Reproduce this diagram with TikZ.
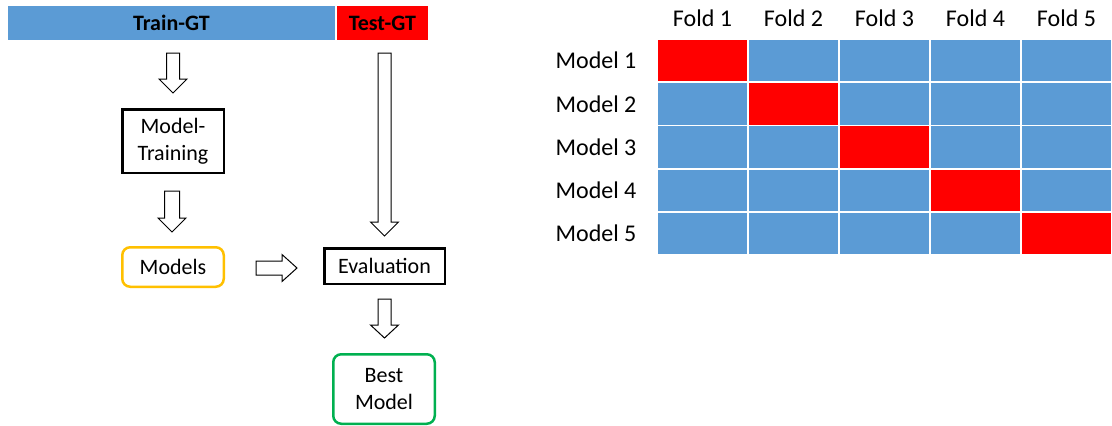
\documentclass[tikz,border=0pt]{standalone}
\usepackage{fontspec}
\setmainfont{Carlito}
\usetikzlibrary{calc}
\definecolor{foldblue}{HTML}{5B9BD5}
\definecolor{boxorange}{HTML}{FFC000}
\definecolor{boxgreen}{HTML}{00B050}

% hollow block arrow pointing down: from, tip, head length, shaft half width, head half width
\newcommand\downblock[5]{%
  \draw[blockarrow] let \p1=(#1), \p2=(#2) in
    ({\x1-#4pt},\y1) -- ({\x1+#4pt},\y1) -- ({\x1+#4pt},{\y2+#3pt}) --
    ({\x1+#5pt},{\y2+#3pt}) -- (\x1,\y2) -- ({\x1-#5pt},{\y2+#3pt}) --
    ({\x1-#4pt},{\y2+#3pt}) -- cycle;}
% hollow block arrow pointing right
\newcommand\rightblock[5]{%
  \draw[blockarrow] let \p1=(#1), \p2=(#2) in
    (\x1,{\y1+#4pt}) -- (\x1,{\y1-#4pt}) -- ({\x2-#3pt},{\y1-#4pt}) --
    ({\x2-#3pt},{\y1-#5pt}) -- (\x2,\y1) -- ({\x2-#3pt},{\y1+#5pt}) --
    ({\x2-#3pt},{\y1+#4pt}) -- cycle;}

\begin{document}
\begin{tikzpicture}[x=1pt,y=-1pt,
  bar/.style={rectangle, inner sep=0pt, minimum height=34pt,
    font=\fontsize{22}{26}\selectfont\bfseries},
  flowbox/.style={rectangle, draw=black, line width=2.5pt, inner sep=0pt,
    align=center, font=\fontsize{22}{27}\selectfont},
  roundbox/.style={flowbox, rounded corners=8pt},
  blockarrow/.style={draw=black, line width=1pt, fill=white, line join=miter},
  gridlabel/.style={inner sep=0pt, font=\fontsize{24}{28}\selectfont},
  cell/.style={draw=white, line width=1.8pt}]
\useasboundingbox (0,0) rectangle (1112,426);

% data split bar
\node[bar, fill=foldblue, minimum width=327pt] (train) at (171.5,23) {Train-GT};
\node[bar, fill=red, minimum width=91pt] (test) at (382.5,23) {Test-GT};

% flow boxes
\node[flowbox, minimum width=101.5pt, minimum height=63.5pt] (mt) at (173,141) {Model-\\Training};
\node[roundbox, draw=boxorange, minimum width=101.5pt, minimum height=39.5pt] (models) at (173,267) {Models};
\node[flowbox, minimum width=120.5pt, minimum height=35.5pt] (eval) at (384.5,266) {Evaluation};
\node[roundbox, draw=boxgreen, minimum width=101.5pt, minimum height=69.5pt] (best) at (384,389) {Best\\Model};

% arrow end points
\coordinate (a1s) at ($(mt.north |- train.south)+(0,13)$);
\coordinate (a1e) at ($(mt.north)+(0,-15)$);
\coordinate (a2s) at ($(mt.south)+(-1,17)$);
\coordinate (a2e) at ($(models.north)+(-1,-14)$);
\coordinate (a3s) at ($(models.east)+(31,1)$);
\coordinate (a3e) at ($(eval.west)+(-26,2)$);
\coordinate (a4s) at ($(eval.north |- test.south)+(0,13)$);
\coordinate (a4e) at ($(eval.north)+(0,-11)$);
\coordinate (a5s) at ($(eval.south)+(0,14)$);
\coordinate (a5e) at ($(best.north)+(0.5,-15)$);

\downblock{a1s}{a1e}{14}{6.5}{14}
\downblock{a2s}{a2e}{14}{7.5}{14}
\rightblock{a3s}{a3e}{15}{7}{13.5}
\downblock{a4s}{a4e}{14}{6.5}{14}
\downblock{a5s}{a5e}{13}{6.5}{14}

% cross-validation grid
\foreach \r in {1,...,5}{
  \foreach \c in {1,...,5}{
    \ifnum\r=\c \def\cellcol{red}\else\def\cellcol{foldblue}\fi
    \path[cell, fill=\cellcol] ({657+(\c-1)*91},{39+(\r-1)*43.2}) rectangle ++(91,43.2);
  }
}
\foreach \c in {1,...,5}
  \node[gridlabel] (fold\c) at ({702.5+(\c-1)*91},18) {Fold \c};
\foreach \r in {1,...,5}
  \node[gridlabel] (model\r) at (596,{60.6+(\r-1)*43.2}) {Model \r};
\end{tikzpicture}
\end{document}
